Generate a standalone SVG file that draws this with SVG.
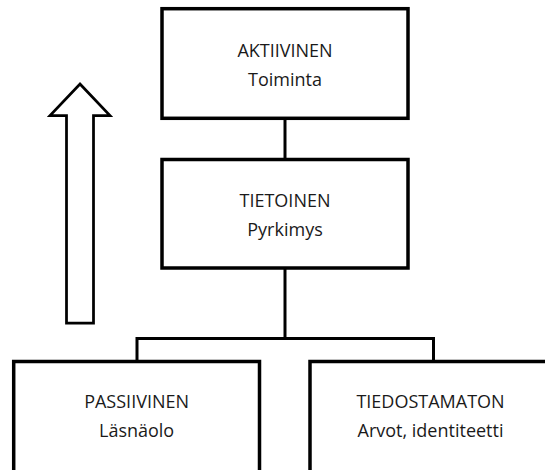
<svg xmlns="http://www.w3.org/2000/svg" width="545" height="470" viewBox="0 0 545 470">
  <style>
    .box { fill: #ffffff; stroke: #000000; stroke-width: 3.5; }
    .link { fill: none; stroke: #000000; stroke-width: 3; }
    .arrow { fill: #ffffff; stroke: #000000; stroke-width: 2.75; stroke-linejoin: miter; }
    .label { font-family: "Open Sans", "Liberation Sans", sans-serif; font-size: 18px; fill: #1a1a1a; text-anchor: middle; }
  </style>
  <rect width="545" height="470" fill="#ffffff"/>

  <!-- hollow upward arrow -->
  <g id="arrow-up">
    <path class="arrow" d="M80,84 L110,115.5 L93.5,115.5 L93.5,323 L66.5,323 L66.5,115.5 L50,115.5 Z"/>
  </g>

  <!-- tree connectors -->
  <g id="connectors">
    <line class="link" x1="285" y1="118" x2="285" y2="160"/>
    <line class="link" x1="285" y1="268" x2="285" y2="338.5"/>
    <polyline class="link" points="137,362 137,338.5 433.5,338.5 433.5,362"/>
  </g>

  <g id="node-aktiivinen">
    <rect class="box" x="162" y="8.7" width="246" height="109.6"/>
    <text class="label" x="285" y="57">AKTIIVINEN</text>
    <text class="label" x="285" y="85.6">Toiminta</text>
  </g>

  <g id="node-tietoinen">
    <rect class="box" x="162" y="159.5" width="246" height="108.5"/>
    <text class="label" x="285" y="207.3">TIETOINEN</text>
    <text class="label" x="285" y="236.4">Pyrkimys</text>
  </g>

  <g id="node-passiivinen">
    <rect class="box" x="13.7" y="361.5" width="245.8" height="130"/>
    <text class="label" x="136.6" y="407.8">PASSIIVINEN</text>
    <text class="label" x="136.6" y="437.1">Läsnäolo</text>
  </g>

  <g id="node-tiedostamaton">
    <rect class="box" x="310" y="361.5" width="246" height="130"/>
    <text class="label" x="430.5" y="407.8">TIEDOSTAMATON</text>
    <text class="label" x="430.5" y="437.1">Arvot, identiteetti</text>
  </g>
</svg>
